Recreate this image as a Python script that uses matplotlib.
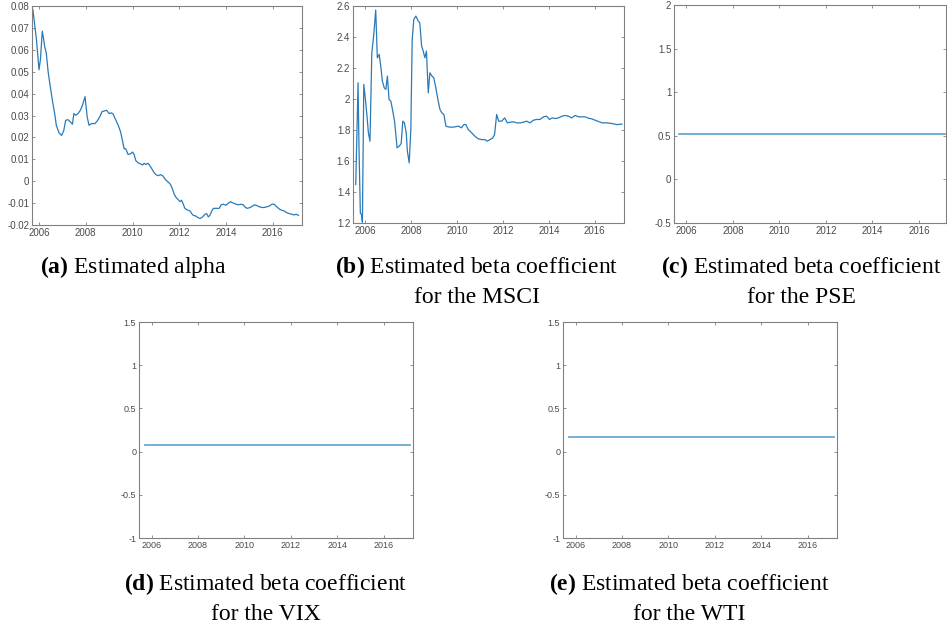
import matplotlib
matplotlib.use("Agg")
import matplotlib.pyplot as plt

# estimated alpha (panel a)
alpha_year = [2005.74, 2005.89, 2006.00, 2006.06, 2006.14, 2006.20, 2006.24, 2006.31, 2006.39, 2006.46,
              2006.57, 2006.67, 2006.74, 2006.86, 2006.97, 2007.06, 2007.14, 2007.24, 2007.34, 2007.43,
              2007.49, 2007.57, 2007.67, 2007.77, 2007.86, 2007.97, 2008.06, 2008.14, 2008.24, 2008.39,
              2008.49, 2008.60, 2008.69, 2008.80, 2008.89, 2009.00, 2009.10, 2009.17, 2009.29, 2009.39,
              2009.49, 2009.57, 2009.64, 2009.71, 2009.81, 2009.91, 2010.00, 2010.07, 2010.14, 2010.24,
              2010.34, 2010.43, 2010.50, 2010.57, 2010.66, 2010.74, 2010.83, 2010.91, 2011.00, 2011.10,
              2011.20, 2011.29, 2011.39, 2011.46, 2011.54, 2011.63, 2011.71, 2011.77, 2011.86, 2011.96,
              2012.03, 2012.10, 2012.17, 2012.24, 2012.34, 2012.46, 2012.53, 2012.60, 2012.71, 2012.81,
              2012.89, 2013.00, 2013.10, 2013.17, 2013.24, 2013.31, 2013.39, 2013.46, 2013.60, 2013.71,
              2013.79, 2013.89, 2014.00, 2014.10, 2014.20, 2014.31, 2014.43, 2014.53, 2014.63, 2014.74,
              2014.83, 2014.91, 2015.03, 2015.13, 2015.21, 2015.31, 2015.43, 2015.53, 2015.64, 2015.74,
              2015.86, 2015.96, 2016.06, 2016.17, 2016.29, 2016.39, 2016.49, 2016.60, 2016.71, 2016.81,
              2016.91, 2017.00, 2017.10]
alpha_val = [0.0782, 0.0647, 0.0509, 0.0555, 0.0685, 0.0647, 0.0616, 0.0585, 0.0500, 0.0447,
             0.0370, 0.0309, 0.0255, 0.0220, 0.0209, 0.0232, 0.0278, 0.0281, 0.0271, 0.0260,
             0.0309, 0.0301, 0.0309, 0.0324, 0.0347, 0.0386, 0.0294, 0.0255, 0.0263, 0.0263,
             0.0275, 0.0294, 0.0317, 0.0321, 0.0324, 0.0309, 0.0312, 0.0306, 0.0278, 0.0255,
             0.0225, 0.0186, 0.0148, 0.0148, 0.0122, 0.0125, 0.0133, 0.0122, 0.0094, 0.0084,
             0.0079, 0.0074, 0.0082, 0.0076, 0.0082, 0.0071, 0.0056, 0.0041, 0.0030, 0.0025,
             0.0030, 0.0025, 0.0010, 0.0002, -0.0005, -0.0016, -0.0036, -0.0056, -0.0074, -0.0085,
             -0.0093, -0.0087, -0.0105, -0.0124, -0.0131, -0.0136, -0.0148, -0.0156, -0.0159, -0.0167,
             -0.0170, -0.0163, -0.0151, -0.0148, -0.0163, -0.0156, -0.0136, -0.0124, -0.0124, -0.0124,
             -0.0108, -0.0105, -0.0110, -0.0100, -0.0094, -0.0100, -0.0105, -0.0108, -0.0105, -0.0108,
             -0.0120, -0.0124, -0.0120, -0.0114, -0.0108, -0.0111, -0.0117, -0.0120, -0.0120, -0.0117,
             -0.0113, -0.0105, -0.0105, -0.0117, -0.0128, -0.0133, -0.0136, -0.0144, -0.0148, -0.0151,
             -0.0154, -0.0151, -0.0156]

# estimated beta for the MSCI (panel b)
msci_year = [2005.58, 2005.68, 2005.72, 2005.78, 2005.83, 2005.87, 2005.93, 2006.00, 2006.07, 2006.13,
             2006.20, 2006.28, 2006.36, 2006.45, 2006.52, 2006.60, 2006.67, 2006.74, 2006.82, 2006.89,
             2006.96, 2007.03, 2007.11, 2007.18, 2007.27, 2007.32, 2007.38, 2007.47, 2007.56, 2007.63,
             2007.70, 2007.78, 2007.83, 2007.91, 2007.98, 2008.04, 2008.11, 2008.20, 2008.30, 2008.37,
             2008.45, 2008.52, 2008.59, 2008.66, 2008.74, 2008.81, 2008.90, 2008.98, 2009.07, 2009.16,
             2009.25, 2009.33, 2009.42, 2009.51, 2009.61, 2009.76, 2009.90, 2010.05, 2010.19, 2010.29,
             2010.38, 2010.48, 2010.63, 2010.77, 2010.92, 2011.07, 2011.21, 2011.31, 2011.43, 2011.55,
             2011.63, 2011.72, 2011.81, 2011.94, 2012.07, 2012.19, 2012.30, 2012.45, 2012.59, 2012.74,
             2012.88, 2013.03, 2013.17, 2013.32, 2013.46, 2013.61, 2013.76, 2013.90, 2014.02, 2014.14,
             2014.27, 2014.41, 2014.56, 2014.70, 2014.85, 2014.99, 2015.14, 2015.29, 2015.43, 2015.58,
             2015.72, 2015.87, 2016.01, 2016.16, 2016.31, 2016.52, 2016.74, 2016.96, 2017.18]
msci_val = [1.448, 2.105, 1.695, 1.265, 1.254, 1.205, 2.094, 2.000, 1.889, 1.782,
            1.728, 2.298, 2.406, 2.574, 2.266, 2.288, 2.212, 2.115, 2.072, 2.062,
            2.148, 1.997, 1.986, 1.932, 1.857, 1.782, 1.685, 1.695, 1.713, 1.857,
            1.846, 1.782, 1.663, 1.588, 1.803, 2.385, 2.514, 2.535, 2.503, 2.492,
            2.342, 2.309, 2.266, 2.309, 2.040, 2.169, 2.148, 2.137, 2.072, 1.997,
            1.932, 1.911, 1.900, 1.825, 1.820, 1.818, 1.820, 1.825, 1.814, 1.835,
            1.835, 1.803, 1.782, 1.760, 1.743, 1.738, 1.738, 1.728, 1.738, 1.749,
            1.771, 1.900, 1.857, 1.857, 1.878, 1.846, 1.850, 1.853, 1.846, 1.846,
            1.850, 1.857, 1.846, 1.863, 1.868, 1.868, 1.885, 1.889, 1.868, 1.878,
            1.874, 1.878, 1.889, 1.894, 1.889, 1.878, 1.894, 1.885, 1.885, 1.885,
            1.876, 1.872, 1.863, 1.855, 1.846, 1.846, 1.842, 1.835, 1.838]

# constant betas (panels c, d, e)
flat_year = [2005.70, 2017.13]
pse_val = [0.515, 0.515]
vix_val = [0.08, 0.08]
wti_val = [0.17, 0.17]

year_ticks = [2006, 2008, 2010, 2012, 2014, 2016]
year_labels = ["2006", "2008", "2010", "2012", "2014", "2016"]

captions = [
    ("(a)", "Estimated alpha", None),
    ("(b)", "Estimated beta coefficient", "for the MSCI"),
    ("(c)", "Estimated beta coefficient", "for the PSE"),
    ("(d)", "Estimated beta coefficient", "for the VIX"),
    ("(e)", "Estimated beta coefficient", "for the WTI"),
]

W, H = 947, 624
plt.rcParams["font.family"] = "Liberation Sans"
plt.rcParams["mathtext.fontset"] = "custom"
plt.rcParams["mathtext.rm"] = "Liberation Serif"
plt.rcParams["mathtext.bf"] = "Liberation Serif:bold"

fig = plt.figure(figsize=(W / 100, H / 100), dpi=100)

line_col = "#2a7ab8"
flat_col = "#6aa8d2"
spine_col = "#808080"
label_col = "#4a4a4a"


def box(left, top, right, bottom):
    return [left / W, 1 - bottom / H, (right - left) / W, (bottom - top) / H]


def style(ax, xlim, ylim, yticks, fs):
    ax.set_xlim(xlim)
    ax.set_ylim(ylim)
    ax.set_xticks(year_ticks)
    ax.set_xticklabels(year_labels)
    ax.set_yticks(yticks)
    ax.set_yticklabels(["%g" % t for t in yticks])
    ax.tick_params(direction="in", top=True, right=True, length=2.5, width=0.6,
                   color=spine_col, labelcolor=label_col, labelsize=fs, pad=2)
    for s in ax.spines.values():
        s.set_color(spine_col)
        s.set_linewidth(0.8)


ax_a = fig.add_axes(box(32, 6, 302, 225))
ax_a.plot(alpha_year, alpha_val, color=line_col, lw=0.9)
style(ax_a, (2005.70, 2017.25), (-0.02, 0.08),
      [-0.02, -0.01, 0, 0.01, 0.02, 0.03, 0.04, 0.05, 0.06, 0.07, 0.08], 7)

ax_b = fig.add_axes(box(353, 6, 624, 223))
ax_b.plot(msci_year, msci_val, color=line_col, lw=0.9)
style(ax_b, (2005.46, 2017.27), (1.2, 2.6),
      [1.2, 1.4, 1.6, 1.8, 2.0, 2.2, 2.4, 2.6], 7)

ax_c = fig.add_axes(box(674, 5, 946, 223))
ax_c.plot(flat_year, pse_val, color=flat_col, lw=1.3)
style(ax_c, (2005.47, 2017.16), (-0.5, 2), [-0.5, 0, 0.5, 1, 1.5, 2], 7)

ax_d = fig.add_axes(box(139, 322, 413, 538))
ax_d.plot(flat_year, vix_val, color=flat_col, lw=1.3)
style(ax_d, (2005.46, 2017.27), (-1, 1.5), [-1, -0.5, 0, 0.5, 1, 1.5], 6.5)

ax_e = fig.add_axes(box(563, 322, 837, 538))
ax_e.plot(flat_year, wti_val, color=flat_col, lw=1.3)
style(ax_e, (2005.46, 2017.27), (-1, 1.5), [-1, -0.5, 0, 0.5, 1, 1.5], 6.5)

# captions under each panel (centre x, baseline of first line, in pixels)
cap_pos = [(133, 273), (477, 273), (801, 273), (266, 590), (689, 590)]
for (tag, line1, line2), (cx, by) in zip(captions, cap_pos):
    fig.text(cx / W, 1 - by / H, r"$\mathbf{" + tag + "}$ " + line1,
             ha="center", va="baseline", fontsize=17, family="Liberation Serif")
    if line2:
        fig.text(cx / W, 1 - (by + 30) / H, line2,
                 ha="center", va="baseline", fontsize=17, family="Liberation Serif")

fig.savefig("out.png", dpi=100)
